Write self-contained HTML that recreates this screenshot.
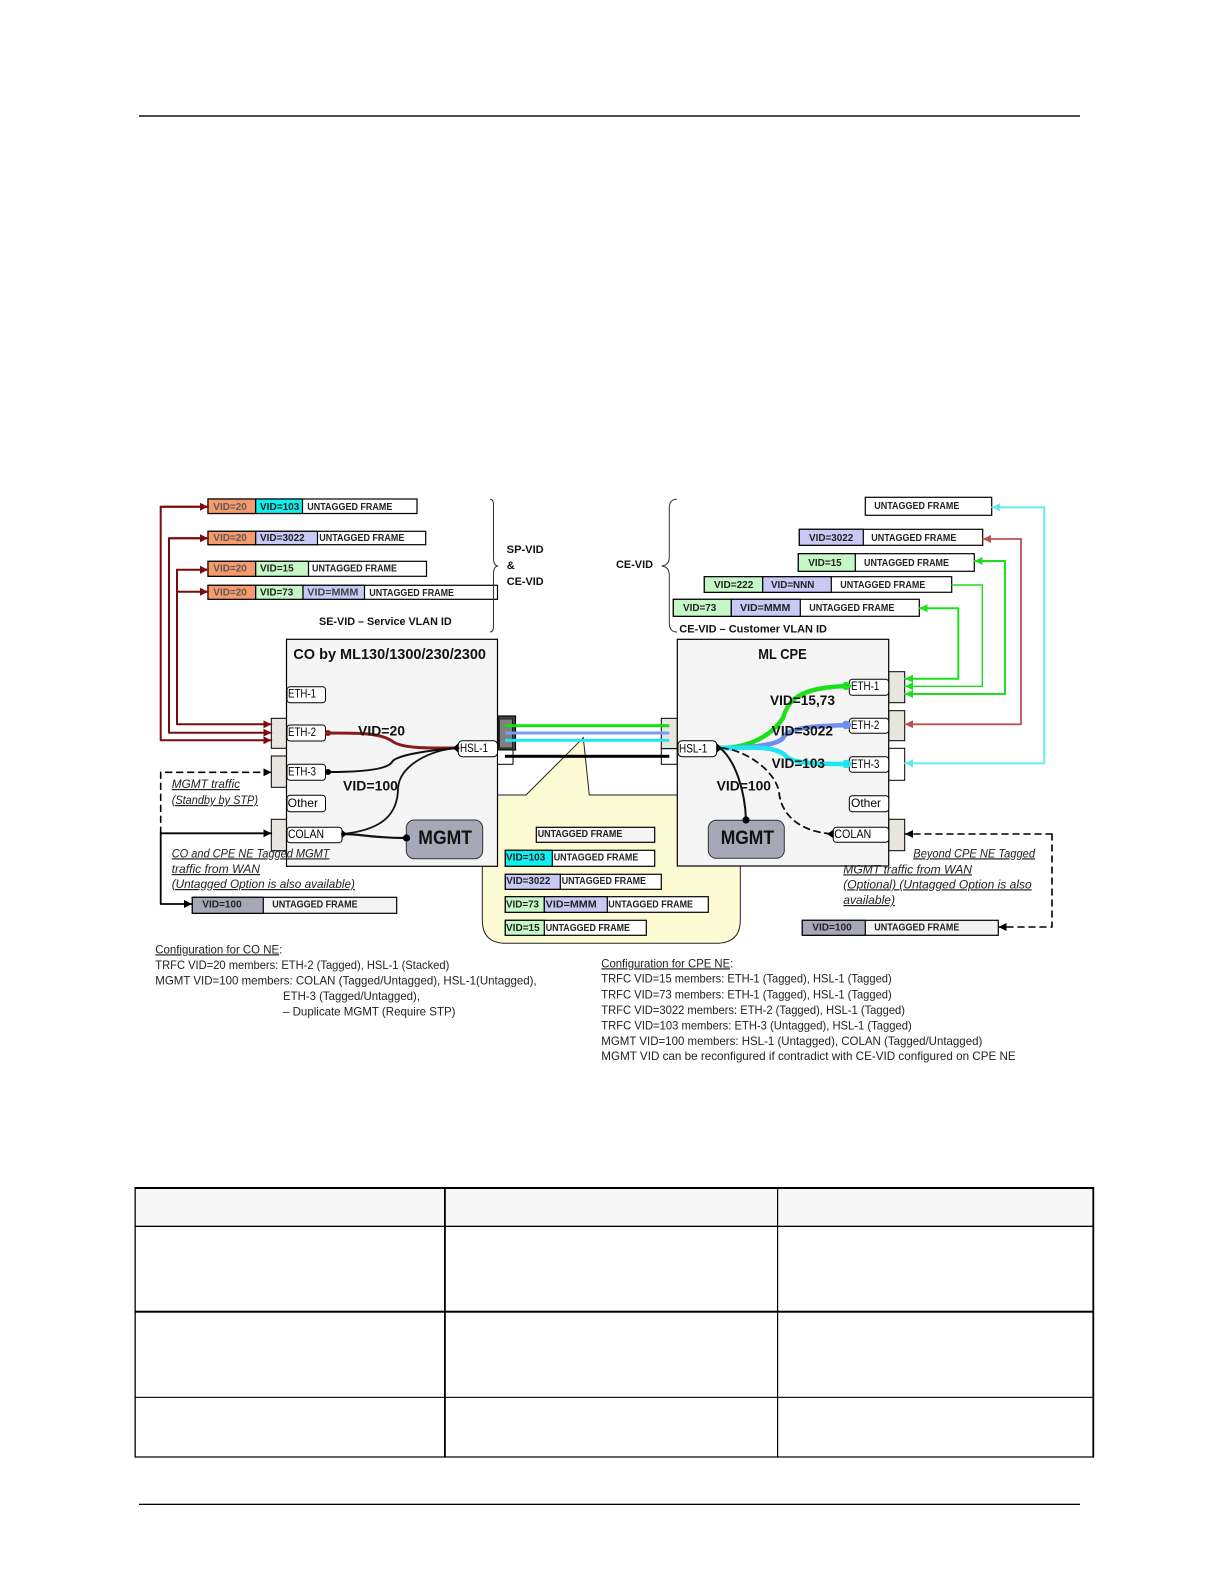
<!DOCTYPE html>
<html><head><meta charset="utf-8"><title>VLAN diagram</title>
<style>
html,body{margin:0;padding:0;background:#fff;width:1224px;height:1584px;overflow:hidden}
svg{display:block;position:absolute;left:0;top:0}
text{font-family:"Liberation Sans",sans-serif;fill:#111}
.f{font-size:10px;font-weight:700;fill:#222}
.o{font-size:10px;font-weight:700;fill:#5a5a5a}
.b{font-size:11px;font-weight:700}
.p{font-size:12px;fill:#000}
.v{font-size:13.5px;font-weight:700}
.i{font-size:12px;font-style:italic;text-decoration:underline;fill:#222}
.c{font-size:12px;fill:#222}
.fr{stroke:#000;stroke-width:1.2}
.port{fill:#fff;stroke:#000;stroke-width:1}
.w{fill:none;stroke-linecap:round;stroke-linejoin:round}
</style></head><body>
<svg width="1224" height="1584" viewBox="0 0 1224 1584" xmlns="http://www.w3.org/2000/svg">
<defs>
<marker id="mr" markerUnits="userSpaceOnUse" markerWidth="9" markerHeight="10" refX="8" refY="5" orient="auto"><path d="M0 1L8 5L0 9z" fill="#7b0a0f"/></marker>
<marker id="mk" markerUnits="userSpaceOnUse" markerWidth="9" markerHeight="10" refX="8" refY="5" orient="auto"><path d="M0 1L8 5L0 9z" fill="#000"/></marker>
<marker id="mg" markerUnits="userSpaceOnUse" markerWidth="9" markerHeight="10" refX="8" refY="5" orient="auto"><path d="M0 1L8 5L0 9z" fill="#1be01b"/></marker>
<marker id="mc" markerUnits="userSpaceOnUse" markerWidth="9" markerHeight="10" refX="8" refY="5" orient="auto"><path d="M0 1L8 5L0 9z" fill="#5fe9f2"/></marker>
<marker id="mb" markerUnits="userSpaceOnUse" markerWidth="9" markerHeight="10" refX="8" refY="5" orient="auto"><path d="M0 1L8 5L0 9z" fill="#b85450"/></marker>
</defs>

<!-- page rules -->
<rect x="139" y="115.3" width="941" height="1.4" fill="#000"/>
<rect x="139" y="1503.7" width="941" height="1.3" fill="#000"/>

<!-- callout -->
<path d="M583.3 737.7L526 795H500V795H482.3V920Q482.3 943.3 506 943.3H716Q740.3 943.3 740.3 920V795H589.3Z" fill="#fdfbd3" stroke="#222" stroke-width="1"/>

<!-- left top frames -->
<g class="fr">
<rect x="208" y="499" width="209" height="14.5" fill="#fff"/><rect x="208" y="499" width="47.7" height="14.5" fill="#f79a6c"/><rect x="255.7" y="499" width="46.8" height="14.5" fill="#0ff0f0"/>
<rect x="208" y="531.3" width="217.7" height="13.4" fill="#fff"/><rect x="208" y="531.3" width="47.7" height="13.4" fill="#f79a6c"/><rect x="255.7" y="531.3" width="61.8" height="13.4" fill="#c9c9f5"/>
<rect x="208" y="561.3" width="218.5" height="15" fill="#fff"/><rect x="208" y="561.3" width="47.7" height="15" fill="#f79a6c"/><rect x="255.7" y="561.3" width="52.8" height="15" fill="#c6f7c6"/>
<rect x="208" y="585.3" width="289.5" height="14" fill="#fff"/><rect x="208" y="585.3" width="47.7" height="14" fill="#f79a6c"/><rect x="255.7" y="585.3" width="47.3" height="14" fill="#c6f7c6"/><rect x="303" y="585.3" width="61.5" height="14" fill="#c9c9f5"/>
</g>
<text class="o" x="213.3" y="510" textLength="33.5" lengthAdjust="spacingAndGlyphs">VID=20</text>
<text class="f" x="260" y="510" textLength="39.3" lengthAdjust="spacingAndGlyphs">VID=103</text>
<text class="f" x="307.3" y="510" textLength="85" lengthAdjust="spacingAndGlyphs">UNTAGGED FRAME</text>
<text class="o" x="213.3" y="541" textLength="33.5" lengthAdjust="spacingAndGlyphs">VID=20</text>
<text class="f" x="260" y="541" textLength="44.7" lengthAdjust="spacingAndGlyphs">VID=3022</text>
<text class="f" x="319.3" y="541" textLength="85" lengthAdjust="spacingAndGlyphs">UNTAGGED FRAME</text>
<text class="o" x="213.3" y="571.7" textLength="33.5" lengthAdjust="spacingAndGlyphs">VID=20</text>
<text class="f" x="260" y="571.7" textLength="33.7" lengthAdjust="spacingAndGlyphs">VID=15</text>
<text class="f" x="312" y="571.7" textLength="85" lengthAdjust="spacingAndGlyphs">UNTAGGED FRAME</text>
<text class="o" x="213.3" y="595.3" textLength="33.5" lengthAdjust="spacingAndGlyphs">VID=20</text>
<text class="f" x="260" y="595.3" textLength="33.3" lengthAdjust="spacingAndGlyphs">VID=73</text>
<text class="f" x="307.3" y="595.3" textLength="51" lengthAdjust="spacingAndGlyphs" style="fill:#444">VID=MMM</text>
<text class="f" x="369.3" y="596" textLength="84.7" lengthAdjust="spacingAndGlyphs">UNTAGGED FRAME</text>
<text class="b" x="319" y="625" textLength="132.7" lengthAdjust="spacingAndGlyphs">SE-VID – Service VLAN ID</text>

<!-- braces -->
<path d="M490 499.3Q493.5 499.3 493.5 505V558Q493.5 565 497.3 566Q493.5 567 493.5 574V626Q493.5 632 490 632" fill="none" stroke="#333" stroke-width="1"/>
<path d="M677 499.3Q669.3 499.3 669.3 508V557Q669.3 565 661.7 566Q669.3 567 669.3 575V623Q669.3 632 677 632" fill="none" stroke="#333" stroke-width="1"/>
<text class="b" x="506.7" y="553" textLength="37" lengthAdjust="spacingAndGlyphs">SP-VID</text>
<text class="b" x="506.7" y="569">&amp;</text>
<text class="b" x="506.7" y="585" textLength="37" lengthAdjust="spacingAndGlyphs">CE-VID</text>
<text class="b" x="616" y="568" textLength="37" lengthAdjust="spacingAndGlyphs">CE-VID</text>

<!-- right top frames -->
<g class="fr">
<rect x="865.3" y="497.3" width="126.4" height="18" fill="#fff"/>
<rect x="799.3" y="529.3" width="183.4" height="16" fill="#fff"/><rect x="799.3" y="529.3" width="64" height="16" fill="#c9c9f5"/>
<rect x="798.3" y="553.7" width="176" height="17.6" fill="#fff"/><rect x="798.3" y="553.7" width="57" height="17.6" fill="#c6f7c6"/>
<rect x="704.3" y="576.7" width="247.4" height="15.6" fill="#fff"/><rect x="704.3" y="576.7" width="58.4" height="15.6" fill="#c6f7c6"/><rect x="762.7" y="576.7" width="68.6" height="15.6" fill="#c9c9f5"/>
<rect x="673.3" y="599.3" width="246" height="17" fill="#fff"/><rect x="673.3" y="599.3" width="58" height="17" fill="#c6f7c6"/><rect x="731.3" y="599.3" width="69" height="17" fill="#c9c9f5"/>
</g>
<text class="f" x="874.3" y="509" textLength="85" lengthAdjust="spacingAndGlyphs">UNTAGGED FRAME</text>
<text class="f" x="809" y="541" textLength="44.3" lengthAdjust="spacingAndGlyphs">VID=3022</text>
<text class="f" x="871.3" y="541" textLength="85" lengthAdjust="spacingAndGlyphs">UNTAGGED FRAME</text>
<text class="f" x="808.3" y="566" textLength="33.4" lengthAdjust="spacingAndGlyphs">VID=15</text>
<text class="f" x="864" y="566" textLength="85" lengthAdjust="spacingAndGlyphs">UNTAGGED FRAME</text>
<text class="f" x="714" y="588" textLength="39.3" lengthAdjust="spacingAndGlyphs">VID=222</text>
<text class="f" x="771" y="588" textLength="43.3" lengthAdjust="spacingAndGlyphs">VID=NNN</text>
<text class="f" x="840.3" y="588" textLength="85" lengthAdjust="spacingAndGlyphs">UNTAGGED FRAME</text>
<text class="f" x="683" y="611" textLength="33.3" lengthAdjust="spacingAndGlyphs">VID=73</text>
<text class="f" x="740" y="611" textLength="50.3" lengthAdjust="spacingAndGlyphs">VID=MMM</text>
<text class="f" x="809.3" y="611" textLength="85" lengthAdjust="spacingAndGlyphs">UNTAGGED FRAME</text>
<text class="b" x="679.3" y="632.7" textLength="147.7" lengthAdjust="spacingAndGlyphs">CE-VID – Customer VLAN ID</text>

<!-- outer ports left -->
<g stroke="#000" stroke-width="1">
<rect x="271.3" y="718.3" width="16" height="30" fill="#e8e6df"/>
<rect x="271.3" y="756" width="16" height="31.3" fill="#e8e6df"/>
<rect x="271.3" y="819.3" width="16" height="31.4" fill="#e8e6df"/>
</g>

<!-- CO box -->
<rect x="286.5" y="639.3" width="211" height="227" fill="#f5f5f5" stroke="#000" stroke-width="1.2"/>
<text x="293.3" y="659" font-size="15" font-weight="700" textLength="192.7" lengthAdjust="spacingAndGlyphs">CO by ML130/1300/230/2300</text>

<!-- CPE outer ports + box -->
<g stroke="#000" stroke-width="1">
<rect x="661.3" y="718.3" width="16" height="30.4" fill="#e8e6df"/>
<rect x="661.3" y="748.7" width="16" height="15.6" fill="#fff"/>
<rect x="888.7" y="671.7" width="16" height="31" fill="#e8e6df"/>
<rect x="888.7" y="710.7" width="16" height="30" fill="#e8e6df"/>
<rect x="888.7" y="748.3" width="16" height="32" fill="#fff"/>
<rect x="888.7" y="819.3" width="16" height="31.4" fill="#e8e6df"/>
</g>
<rect x="677.3" y="639.3" width="211.4" height="226.7" fill="#f5f5f5" stroke="#000" stroke-width="1.2"/>
<text x="758.3" y="659" font-size="15" font-weight="700" textLength="48.4" lengthAdjust="spacingAndGlyphs">ML CPE</text>

<!-- HSL connector left -->
<rect x="498" y="716" width="17.5" height="34" fill="#444" stroke="#000" stroke-width="1.2"/>
<rect x="499.5" y="719" width="13" height="29" fill="#808080" stroke="#222" stroke-width="1"/>
<rect x="497.5" y="750" width="15.5" height="14.3" fill="#fff" stroke="#000" stroke-width="1"/>

<!-- trunks -->
<rect x="505" y="724.2" width="164.3" height="3" fill="#12e012"/>
<rect x="505" y="731.5" width="164.3" height="3" fill="#7a9cf5"/>
<rect x="505" y="738.8" width="164.3" height="3" fill="#1ee6f0"/>
<rect x="505" y="754.8" width="164.3" height="3" fill="#000"/>

<!-- callout frames -->
<g class="fr">
<rect x="536.3" y="827.3" width="118.4" height="15" fill="#f5f5f5"/>
<rect x="505.3" y="850.3" width="149.4" height="16" fill="#fff"/><rect x="505.3" y="850.3" width="47" height="16" fill="#0ff0f0"/>
<rect x="505.3" y="874.3" width="156" height="15" fill="#fff"/><rect x="505.3" y="874.3" width="55" height="15" fill="#c9c9f5"/>
<rect x="505.3" y="896.7" width="203" height="15.6" fill="#fff"/><rect x="505.3" y="896.7" width="39" height="15.6" fill="#c6f7c6"/><rect x="544.3" y="896.7" width="63" height="15.6" fill="#c9c9f5"/>
<rect x="505.3" y="920.3" width="141" height="15" fill="#fff"/><rect x="505.3" y="920.3" width="39" height="15" fill="#c6f7c6"/>
</g>
<text class="f" x="537.7" y="837" textLength="84.6" lengthAdjust="spacingAndGlyphs">UNTAGGED FRAME</text>
<text class="f" x="506" y="860.7" textLength="39.3" lengthAdjust="spacingAndGlyphs">VID=103</text>
<text class="f" x="553.7" y="860.7" textLength="84.6" lengthAdjust="spacingAndGlyphs">UNTAGGED FRAME</text>
<text class="f" x="506.3" y="884" textLength="44" lengthAdjust="spacingAndGlyphs">VID=3022</text>
<text class="f" x="561.7" y="884" textLength="84.3" lengthAdjust="spacingAndGlyphs">UNTAGGED FRAME</text>
<text class="f" x="506" y="907.7" textLength="33" lengthAdjust="spacingAndGlyphs">VID=73</text>
<text class="f" x="545.7" y="907.7" textLength="51" lengthAdjust="spacingAndGlyphs">VID=MMM</text>
<text class="f" x="608.3" y="907.7" textLength="84.7" lengthAdjust="spacingAndGlyphs">UNTAGGED FRAME</text>
<text class="f" x="506" y="931" textLength="33.7" lengthAdjust="spacingAndGlyphs">VID=15</text>
<text class="f" x="545.7" y="931" textLength="84.3" lengthAdjust="spacingAndGlyphs">UNTAGGED FRAME</text>

<!-- ports CO -->
<rect class="port" x="287" y="686.7" width="38.5" height="16" rx="3"/>
<rect class="port" x="287" y="725" width="38.5" height="16" rx="3"/>
<rect class="port" x="287" y="764.3" width="38.5" height="16" rx="3"/>
<rect class="port" x="287" y="795.3" width="38.5" height="16.4" rx="3"/>
<rect class="port" x="287" y="827.3" width="55" height="15.4" rx="3"/>
<rect class="port" x="458.3" y="740.7" width="39.2" height="16" rx="4"/>
<text class="p" x="288" y="697.7" textLength="28" lengthAdjust="spacingAndGlyphs">ETH-1</text>
<text class="p" x="288" y="736" textLength="28" lengthAdjust="spacingAndGlyphs">ETH-2</text>
<text class="p" x="288" y="775.7" textLength="28" lengthAdjust="spacingAndGlyphs">ETH-3</text>
<text class="p" x="287.7" y="807" textLength="30.3" lengthAdjust="spacingAndGlyphs">Other</text>
<text class="p" x="288" y="838" textLength="36" lengthAdjust="spacingAndGlyphs">COLAN</text>
<text class="p" x="460" y="752" textLength="28" lengthAdjust="spacingAndGlyphs">HSL-1</text>

<!-- MGMT CO -->
<rect x="406.3" y="820" width="76.4" height="38.7" rx="8" fill="#a6a8b8" stroke="#333" stroke-width="1"/>
<text x="418.3" y="844" font-size="19" font-weight="700" textLength="53.7" lengthAdjust="spacingAndGlyphs">MGMT</text>

<!-- CO wires -->
<path class="w" d="M328 733C360 733 380 733 392 741C402 749 430 748 458 748" stroke="#8b1a1a" stroke-width="3"/>
<path class="w" d="M328 772C365 772 388 769 392 762C396 755 430 750 458 748" stroke="#111" stroke-width="2"/>
<path class="w" d="M342 834C385 830 398 812 398 788C400 765 430 750 458 748" stroke="#111" stroke-width="1.8"/>
<path class="w" d="M342 834C362 834 372 838 406 838" stroke="#111" stroke-width="2.2"/>
<circle cx="406.5" cy="838" r="3.6" fill="#000"/>
<circle cx="328" cy="733" r="3" fill="#8b1a1a"/>
<circle cx="328" cy="772" r="3" fill="#000"/>
<path d="M453 748L458 743.5V752.5Z" fill="#000"/>
<path d="M342 830L347 834L342 838Z" fill="#000"/>
<text class="v" x="358" y="735.7" textLength="47" lengthAdjust="spacingAndGlyphs">VID=20</text>
<text class="v" x="343" y="790.7" textLength="55" lengthAdjust="spacingAndGlyphs">VID=100</text>

<!-- ports CPE -->
<rect class="port" x="678" y="740.7" width="38.7" height="16" rx="4"/>
<rect class="port" x="849.3" y="679.3" width="39.4" height="16" rx="3"/>
<rect class="port" x="849.3" y="718.3" width="39.4" height="15" rx="3"/>
<rect class="port" x="849.3" y="756.7" width="39.4" height="15.6" rx="3"/>
<rect class="port" x="849.3" y="795.7" width="39.4" height="16" rx="3"/>
<rect class="port" x="833.3" y="827.3" width="55.4" height="15" rx="3"/>
<text class="p" x="679" y="752.3" textLength="28.3" lengthAdjust="spacingAndGlyphs">HSL-1</text>
<text class="p" x="851" y="690" textLength="28.3" lengthAdjust="spacingAndGlyphs">ETH-1</text>
<text class="p" x="851" y="729" textLength="28.3" lengthAdjust="spacingAndGlyphs">ETH-2</text>
<text class="p" x="851" y="768" textLength="28.3" lengthAdjust="spacingAndGlyphs">ETH-3</text>
<text class="p" x="851" y="807" textLength="30" lengthAdjust="spacingAndGlyphs">Other</text>
<text class="p" x="834.3" y="838" textLength="37" lengthAdjust="spacingAndGlyphs">COLAN</text>

<!-- MGMT CPE -->
<rect x="708.3" y="820.3" width="76" height="38" rx="8" fill="#a6a8b8" stroke="#333" stroke-width="1"/>
<text x="720.7" y="844" font-size="19" font-weight="700" textLength="53.3" lengthAdjust="spacingAndGlyphs">MGMT</text>

<!-- CPE wires -->
<path class="w" d="M720 748C750 748 772 735 783 718C788 702 796 687 849 686" stroke="#1be01b" stroke-width="4.4"/>
<path class="w" d="M720 748C750 748 778 745 783 738C788 727 815 726 849 725" stroke="#6f8ff0" stroke-width="4.6"/>
<path class="w" d="M720 748C750 748 772 745 785 755C790 764 820 764 849 764" stroke="#1ee6f0" stroke-width="4.6"/>
<path class="w" d="M720 748C735 760 745 790 746 820" stroke="#111" stroke-width="2"/>
<path class="w" d="M722 748C745 750 775 770 779 792C781 815 800 832 833 834" stroke="#111" stroke-width="1.8" stroke-dasharray="6 5"/>
<circle cx="746" cy="820" r="3.6" fill="#000"/>
<path d="M717 743.5L722 748L717 752.5Z" fill="#000"/>
<path d="M833 830L827 834L833 838Z" fill="#000"/>
<circle cx="846" cy="686" r="4" fill="#1be01b"/><circle cx="846" cy="725" r="4.2" fill="#6f8ff0"/><circle cx="846" cy="764" r="4.2" fill="#1ee6f0"/>
<text class="v" x="770" y="705" textLength="65" lengthAdjust="spacingAndGlyphs">VID=15,73</text>
<text class="v" x="771.7" y="735.7" textLength="61.3" lengthAdjust="spacingAndGlyphs">VID=3022</text>
<text class="v" x="771.7" y="768" textLength="53.3" lengthAdjust="spacingAndGlyphs">VID=103</text>
<text class="v" x="716.7" y="790.7" textLength="54.3" lengthAdjust="spacingAndGlyphs">VID=100</text>

<!-- left arrows -->
<g class="w" stroke="#7b0a0f" stroke-width="2">
<path d="M208 506.7H160.7V740.3H271.3" marker-end="url(#mr)"/>
<path d="M160.7 506.7H208" marker-end="url(#mr)"/>
<path d="M208 538.3H169V732.7H271.3" marker-end="url(#mr)"/>
<path d="M169 538.3H208" marker-end="url(#mr)"/>
<path d="M177 569.7V724.3H271.3" marker-end="url(#mr)"/>
<path d="M177 569.7H208" marker-end="url(#mr)"/>
<path d="M177 591.7H208" marker-end="url(#mr)"/>
</g>
<path class="w" d="M160.7 833.3V772.3H271.3" stroke="#000" stroke-width="1.6" stroke-dasharray="6 5" marker-end="url(#mk)"/>
<path class="w" d="M160.7 833.3H271.3" stroke="#000" stroke-width="1.8" marker-end="url(#mk)"/>
<path class="w" d="M160.7 833.3V904H192" stroke="#000" stroke-width="1.8" marker-end="url(#mk)"/>

<!-- right arrows -->
<path class="w" d="M1044.3 507.3H992" stroke="#5fe9f2" stroke-width="1.8" marker-end="url(#mc)"/>
<path class="w" d="M1044.3 507.3V763.3H905" stroke="#5fe9f2" stroke-width="1.8" marker-end="url(#mc)"/>
<path class="w" d="M1021 539H983" stroke="#b85450" stroke-width="1.8" marker-end="url(#mb)"/>
<path class="w" d="M1021 539V724.3H905" stroke="#b85450" stroke-width="1.8" marker-end="url(#mb)"/>
<path class="w" d="M1005 561H974.5" stroke="#1be01b" stroke-width="2" marker-end="url(#mg)"/>
<path class="w" d="M1005 561V694H905" stroke="#1be01b" stroke-width="2" marker-end="url(#mg)"/>
<path class="w" d="M952 585H982.3V686.3H905" stroke="#1be01b" stroke-width="1.4" marker-end="url(#mg)"/>
<path class="w" d="M958.3 608.3H919.5" stroke="#1be01b" stroke-width="2" marker-end="url(#mg)"/>
<path class="w" d="M958.3 608.3V678.7H905" stroke="#1be01b" stroke-width="2" marker-end="url(#mg)"/>
<path class="w" d="M1052 834H905" stroke="#000" stroke-width="1.6" stroke-dasharray="6 5" marker-end="url(#mk)"/>
<path class="w" d="M1052 834V927H998.5" stroke="#000" stroke-width="1.6" stroke-dasharray="6 5" marker-end="url(#mk)"/>

<!-- bottom frames -->
<g class="fr">
<rect x="192.3" y="897.3" width="204.4" height="16" fill="#f3f3f3"/><rect x="192.3" y="897.3" width="71" height="16" fill="#a6a8b8"/>
<rect x="802.3" y="920.3" width="196" height="15" fill="#f3f3f3"/><rect x="802.3" y="920.3" width="63" height="15" fill="#a6a8b8"/>
</g>
<text class="f" x="202.3" y="907.7" textLength="39.4" lengthAdjust="spacingAndGlyphs">VID=100</text>
<text class="f" x="272.3" y="907.7" textLength="85.4" lengthAdjust="spacingAndGlyphs">UNTAGGED FRAME</text>
<text class="f" x="812.3" y="930.7" textLength="39.4" lengthAdjust="spacingAndGlyphs">VID=100</text>
<text class="f" x="874.3" y="930.7" textLength="85" lengthAdjust="spacingAndGlyphs">UNTAGGED FRAME</text>

<!-- italic notes -->
<text class="i" x="171.7" y="788" textLength="68.3" lengthAdjust="spacingAndGlyphs">MGMT traffic</text>
<text class="i" x="171.7" y="804" textLength="86.3" lengthAdjust="spacingAndGlyphs">(Standby by STP)</text>
<text class="i" x="171.7" y="857.3" textLength="157.8" lengthAdjust="spacingAndGlyphs">CO and CPE NE  Tagged MGMT</text>
<text class="i" x="171.7" y="873" textLength="88.3" lengthAdjust="spacingAndGlyphs">traffic from WAN</text>
<text class="i" x="171.7" y="888" textLength="183.3" lengthAdjust="spacingAndGlyphs">(Untagged Option is also available)</text>
<text class="i" x="913.3" y="857.3" textLength="121.7" lengthAdjust="spacingAndGlyphs">Beyond CPE NE  Tagged</text>
<text class="i" x="843.3" y="873.3" textLength="128.7" lengthAdjust="spacingAndGlyphs">MGMT traffic from WAN</text>
<text class="i" x="843.3" y="888.3" textLength="188.4" lengthAdjust="spacingAndGlyphs">(Optional)  (Untagged Option is also</text>
<text class="i" x="843.3" y="904" textLength="51.7" lengthAdjust="spacingAndGlyphs">available)</text>

<!-- config -->
<text class="c" x="155.3" y="953.3" textLength="127" lengthAdjust="spacingAndGlyphs"><tspan text-decoration="underline">Configuration for CO NE</tspan>:</text>
<text class="c" x="155.3" y="969" textLength="294" lengthAdjust="spacingAndGlyphs">TRFC VID=20 members: ETH-2 (Tagged),  HSL-1 (Stacked)</text>
<text class="c" x="155.3" y="984.3" textLength="381.4" lengthAdjust="spacingAndGlyphs">MGMT VID=100  members: COLAN (Tagged/Untagged),  HSL-1(Untagged),</text>
<text class="c" x="283" y="1000" textLength="137" lengthAdjust="spacingAndGlyphs">ETH-3 (Tagged/Untagged),</text>
<text class="c" x="283" y="1015.7" textLength="172.5" lengthAdjust="spacingAndGlyphs">– Duplicate MGMT (Require STP)</text>

<text class="c" x="601.3" y="967.3" textLength="132" lengthAdjust="spacingAndGlyphs"><tspan text-decoration="underline">Configuration for CPE NE</tspan>:</text>
<text class="c" x="601.3" y="982.7" textLength="290.4" lengthAdjust="spacingAndGlyphs">TRFC VID=15 members: ETH-1 (Tagged),  HSL-1 (Tagged)</text>
<text class="c" x="601.3" y="998.7" textLength="290.4" lengthAdjust="spacingAndGlyphs">TRFC VID=73 members: ETH-1 (Tagged),  HSL-1 (Tagged)</text>
<text class="c" x="601.3" y="1014" textLength="303.7" lengthAdjust="spacingAndGlyphs">TRFC VID=3022 members: ETH-2 (Tagged), HSL-1 (Tagged)</text>
<text class="c" x="601.3" y="1029.3" textLength="310.4" lengthAdjust="spacingAndGlyphs">TRFC VID=103 members: ETH-3 (Untagged), HSL-1 (Tagged)</text>
<text class="c" x="601.3" y="1045" textLength="381" lengthAdjust="spacingAndGlyphs">MGMT VID=100  members: HSL-1 (Untagged),  COLAN (Tagged/Untagged)</text>
<text class="c" x="601.3" y="1060" textLength="414.4" lengthAdjust="spacingAndGlyphs">MGMT VID can be reconfigured if contradict with  CE-VID  configured on CPE NE</text>

<!-- table -->
<rect x="135.3" y="1187.7" width="957.7" height="38.6" fill="#f7f7f7"/>
<g fill="#000">
<rect x="134.5" y="1187" width="959.5" height="2"/>
<rect x="134.5" y="1225.7" width="959.5" height="1.3"/>
<rect x="134.5" y="1310.7" width="959.5" height="2"/>
<rect x="134.5" y="1396.8" width="959.5" height="1.1"/>
<rect x="134.5" y="1456.4" width="959.5" height="1.2"/>
<rect x="134.5" y="1187" width="1.3" height="270.6"/>
<rect x="444" y="1187" width="1.8" height="270.6"/>
<rect x="777" y="1187" width="1.2" height="270.6"/>
<rect x="1092.4" y="1187" width="1.8" height="270.6"/>
</g>
</svg>
</body></html>
